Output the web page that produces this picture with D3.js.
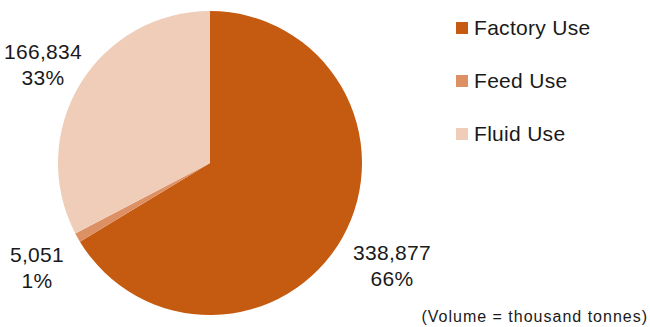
<!DOCTYPE html>
<html>
<head>
<meta charset="utf-8">
<script src="https://cdn.jsdelivr.net/npm/d3@7"></script>
<style>
  html, body { margin: 0; padding: 0; background: #fff; }
  svg { display: block; font-family: "Liberation Sans", Arial, Helvetica, sans-serif; }
</style>
</head>
<body>
<svg id="chart" width="650" height="327"></svg>
<script>
// Milk utilisation by use (thousand tonnes)
const categories = ["Factory Use", "Feed Use", "Fluid Use"];
const values = [338877, 5051, 166834];
const colors = ["#C55A11", "#DD9064", "#EFCDB8"];
const note = "(Volume = thousand tonnes)";

const svg = d3.select("#chart");
const cx = 210, cy = 163, r = 152;

const total = d3.sum(values);
const data = categories.map((c, i) => ({ name: c, value: values[i], color: colors[i] }));

const pie = d3.pie().value(d => d.value).sort(null);
const arc = d3.arc().innerRadius(0).outerRadius(r);
const arcs = pie(data);

const g = svg.append("g").attr("transform", `translate(${cx},${cy})`);
g.selectAll("path")
  .data(arcs)
  .join("path")
  .attr("d", arc)
  .attr("fill", d => d.data.color);

// Value and percentage labels placed outside the pie
const fmt = d3.format(",");
const labelPos = [
  { x: 392, y: 260 },
  { x: 37, y: 262 },
  { x: 43, y: 59 }
];
const labels = svg.append("g")
  .attr("font-size", 21)
  .attr("letter-spacing", 0.3)
  .attr("fill", "#1a1a1a")
  .attr("text-anchor", "middle");
arcs.forEach((a, i) => {
  const p = labelPos[i];
  const t = labels.append("text").attr("x", p.x).attr("y", p.y);
  t.append("tspan").attr("x", p.x).text(fmt(a.data.value));
  t.append("tspan").attr("x", p.x).attr("dy", 26).text(Math.round(a.data.value / total * 100) + "%");
});

// Legend
const legend = svg.append("g").attr("transform", "translate(456,22)");
const item = legend.selectAll("g")
  .data(data)
  .join("g")
  .attr("transform", (d, i) => `translate(0,${i * 53})`);
item.append("rect").attr("width", 12).attr("height", 12).attr("fill", d => d.color);
item.append("text")
  .attr("x", 18).attr("y", 13)
  .attr("font-size", 21)
  .attr("letter-spacing", 0.3)
  .attr("fill", "#1a1a1a")
  .text(d => d.name);

svg.append("text")
  .attr("x", 648).attr("y", 322)
  .attr("text-anchor", "end")
  .attr("font-size", 16)
  .attr("letter-spacing", 1)
  .attr("fill", "#1a1a1a")
  .text(note);
</script>
</body>
</html>
